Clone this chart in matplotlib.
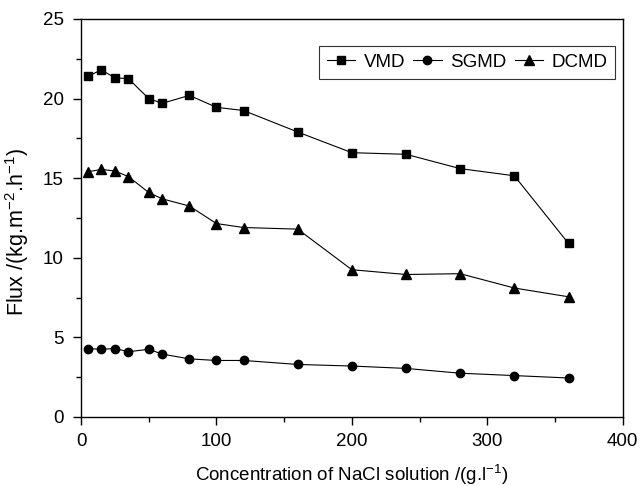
import matplotlib
matplotlib.use("Agg")
import matplotlib.pyplot as plt
from matplotlib.ticker import MultipleLocator

plt.rcParams['font.family'] = ['Liberation Sans', 'DejaVu Sans']
plt.rcParams['mathtext.fontset'] = 'custom'
plt.rcParams['mathtext.rm'] = 'Liberation Sans'
plt.rcParams['mathtext.it'] = 'Liberation Sans'
plt.rcParams['mathtext.default'] = 'regular'

# concentration of NaCl (g/l)
conc = [5, 15, 25, 35, 50, 60, 80, 100, 120, 160, 200, 240, 280, 320, 360]

vmd = [21.4, 21.8, 21.3, 21.25, 20.0, 19.7, 20.2, 19.45, 19.25, 17.9,
       16.6, 16.5, 15.6, 15.15, 10.9]
sgmd = [4.3, 4.25, 4.3, 4.1, 4.25, 3.95, 3.65, 3.55, 3.55, 3.3,
        3.2, 3.05, 2.75, 2.6, 2.45]
dcmd = [15.4, 15.55, 15.45, 15.1, 14.1, 13.7, 13.25, 12.15, 11.9, 11.8,
        9.25, 8.95, 9.0, 8.1, 7.55]

fs = 13.5

fig = plt.figure(figsize=(6.41, 4.86), dpi=100)
ax = fig.add_axes([0.1264, 0.142, 0.845, 0.819])

ax.plot(conc, vmd, 'k-', marker='s', ms=5.5, lw=0.8, label='VMD')
ax.plot(conc, sgmd, 'k-', marker='o', ms=6, lw=0.8, label='SGMD')
ax.plot(conc, dcmd, 'k-', marker='^', ms=6.5, lw=0.8, label='DCMD')

ax.set_xlim(0, 400)
ax.set_ylim(0, 25)
ax.xaxis.set_major_locator(MultipleLocator(100))
ax.xaxis.set_minor_locator(MultipleLocator(50))
ax.yaxis.set_major_locator(MultipleLocator(5))
ax.yaxis.set_minor_locator(MultipleLocator(2.5))
ax.tick_params(which='major', direction='out', length=6, width=1, labelsize=fs,
               top=False, right=False)
ax.tick_params(axis='x', which='major', pad=5.5)
ax.tick_params(axis='y', which='major', pad=6.5)
ax.tick_params(which='minor', direction='out', length=3.6, width=1,
               top=False, right=False)
for s in ax.spines.values():
    s.set_linewidth(1)

ax.set_xlabel('Concentration of NaCl solution /(g.l$^{-1}$)', fontsize=fs, labelpad=9)
ax.set_ylabel('Flux /(kg.m$^{-2}$.h$^{-1}$)', fontsize=15.5)
ax.yaxis.set_label_coords(-0.092, 0.465)

leg = ax.legend(loc='upper right', ncol=3, fontsize=fs, frameon=True, fancybox=False,
                edgecolor='black', handlelength=1.5, handletextpad=0.45,
                columnspacing=0.45, borderpad=0.42, borderaxespad=0,
                bbox_to_anchor=(0.986, 0.932))
leg.get_frame().set_linewidth(0.8)

fig.savefig('out.png', dpi=100)
